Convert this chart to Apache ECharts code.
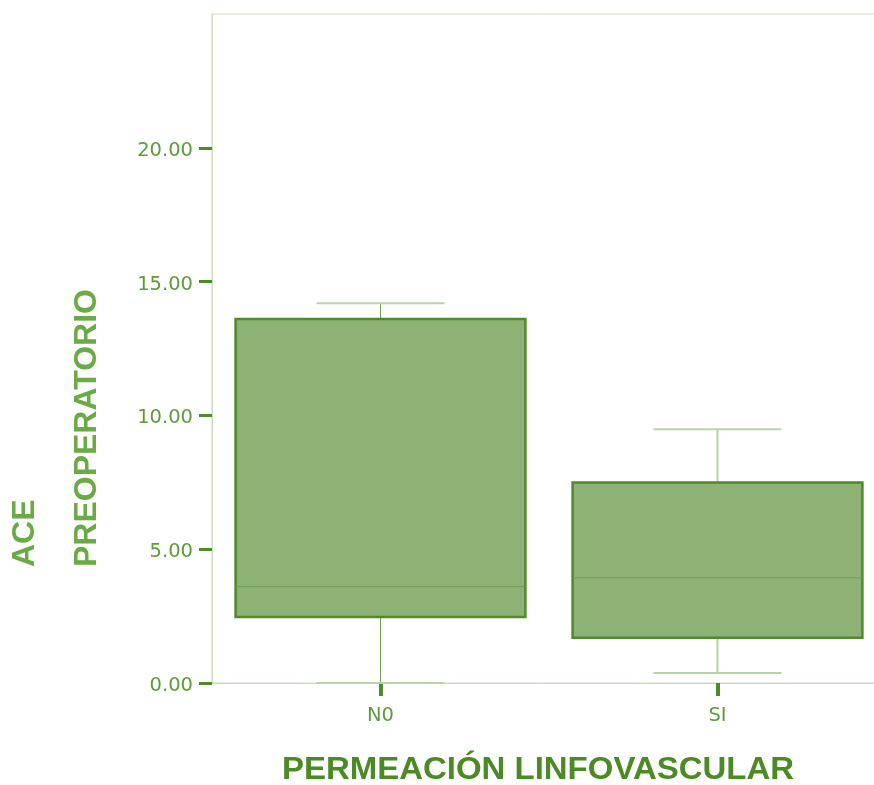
<!DOCTYPE html>
<html>
<head>
<meta charset="utf-8">
<script src="https://cdn.jsdelivr.net/npm/echarts@6/dist/echarts.min.js"></script>
<style>
  html, body { margin: 0; padding: 0; background: #fff; }
  #chart { width: 874px; height: 785px; }
</style>
</head>
<body>
<div id="chart"></div>
<script>
// Box summary per group of lymphovascular permeation
const categories = ['N0', 'SI'];
const lowWhisker = [0.0, 0.37];
const q1 = [2.47, 1.69];
const median = [3.6, 3.93];
const q3 = [13.6, 7.49];
const highWhisker = [14.19, 9.48];
const yTicks = [0, 5, 10, 15, 20];

// Whisker colours per group (upper / lower stem)
const stemColors = [
  { up: '#6fa24c', low: '#6fa24c' },
  { up: '#b7d1a5', low: '#b7d1a5' }
];

const chart = echarts.init(document.getElementById('chart'), null, { renderer: 'canvas' });

const boxData = categories.map((c, i) => [i, lowWhisker[i], q1[i], median[i], q3[i], highWhisker[i]]);

function renderBox(params, api) {
  const i = api.value(0);
  const band = api.size([1, 0])[0];
  const boxW = band * 0.86;
  const capW = band * 0.38;
  const pLow = api.coord([i, api.value(1)]);
  const pQ1 = api.coord([i, api.value(2)]);
  const pMed = api.coord([i, api.value(3)]);
  const pQ3 = api.coord([i, api.value(4)]);
  const pHigh = api.coord([i, api.value(5)]);
  const cx = pQ1[0];
  const sc = stemColors[i];
  const thin = i === 0 ? 1 : 2;
  return {
    type: 'group',
    children: [
      { type: 'line', shape: { x1: cx, y1: pHigh[1], x2: cx, y2: pQ3[1] },
        style: { stroke: sc.up, lineWidth: thin } },
      { type: 'line', shape: { x1: cx - capW / 2, y1: pHigh[1], x2: cx + capW / 2, y2: pHigh[1] },
        style: { stroke: '#bad4a8', lineWidth: 2 } },
      { type: 'line', shape: { x1: cx, y1: pQ1[1], x2: cx, y2: pLow[1] },
        style: { stroke: sc.low, lineWidth: thin } },
      { type: 'line', shape: { x1: cx - capW / 2, y1: pLow[1], x2: cx + capW / 2, y2: pLow[1] },
        style: { stroke: '#bad4a8', lineWidth: 2 } },
      { type: 'rect', shape: { x: cx - boxW / 2, y: pQ3[1], width: boxW, height: pQ1[1] - pQ3[1] },
        style: { fill: '#8eb275', stroke: '#4f8a2b', lineWidth: 2.5 } },
      { type: 'line', shape: { x1: cx - boxW / 2, y1: pMed[1], x2: cx + boxW / 2, y2: pMed[1] },
        style: { stroke: '#6c9d4f', lineWidth: 1 } }
    ]
  };
}

chart.setOption({
  animation: false,
  grid: {
    left: 212, top: 14, width: 674, height: 669,
    outerBoundsMode: 'none', containLabel: false,
    show: true, borderColor: '#c9ddbc', borderWidth: 1, backgroundColor: 'transparent'
  },
  xAxis: {
    type: 'category',
    data: categories,
    boundaryGap: true,
    axisLine: { show: true, lineStyle: { color: '#c9ddbc', width: 1 } },
    axisTick: { show: true, alignWithLabel: true, length: 13, lineStyle: { color: '#4f8a2b', width: 4 } },
    axisLabel: { color: '#5f9b3c', fontSize: 19.5, fontFamily: '"DejaVu Sans", sans-serif', margin: 23 },
    splitLine: { show: false }
  },
  yAxis: {
    type: 'value',
    min: 0, max: 25, interval: 5,
    axisLine: { show: true, lineStyle: { color: '#c9ddbc', width: 1 } },
    axisTick: { show: true, length: 13, customValues: yTicks, lineStyle: { color: '#4f8a2b', width: 3 } },
    axisLabel: {
      color: '#5f9b3c', fontSize: 19.5, fontFamily: '"DejaVu Sans", sans-serif', margin: 19,
      customValues: yTicks,
      formatter: v => '{t|' + v.toFixed(2) + '}',
      rich: {
        t: { color: '#5f9b3c', fontSize: 19.5, fontFamily: '"DejaVu Sans", sans-serif', padding: [6, 0, 0, 0] }
      }
    },
    splitLine: { show: false }
  },
  graphic: [
    {
      type: 'text', x: 56, y: 567, rotation: Math.PI / 2,
      style: {
        text: 'ACE\nPREOPERATORIO',
        fill: '#6aab45', font: 'bold 32px "Liberation Sans", Arial, sans-serif',
        lineHeight: 62, align: 'left', verticalAlign: 'middle'
      }
    },
    {
      type: 'text', x: 538, y: 770, scaleX: 1.03,
      style: {
        text: 'PERMEACIÓN LINFOVASCULAR',
        fill: '#4b8a24', font: 'bold 32px "Liberation Sans", Arial, sans-serif',
        align: 'center', verticalAlign: 'middle'
      }
    }
  ],
  series: [{
    type: 'custom',
    renderItem: renderBox,
    data: boxData,
    encode: { x: 0, y: [1, 2, 3, 4, 5] }
  }]
});
</script>
</body>
</html>
